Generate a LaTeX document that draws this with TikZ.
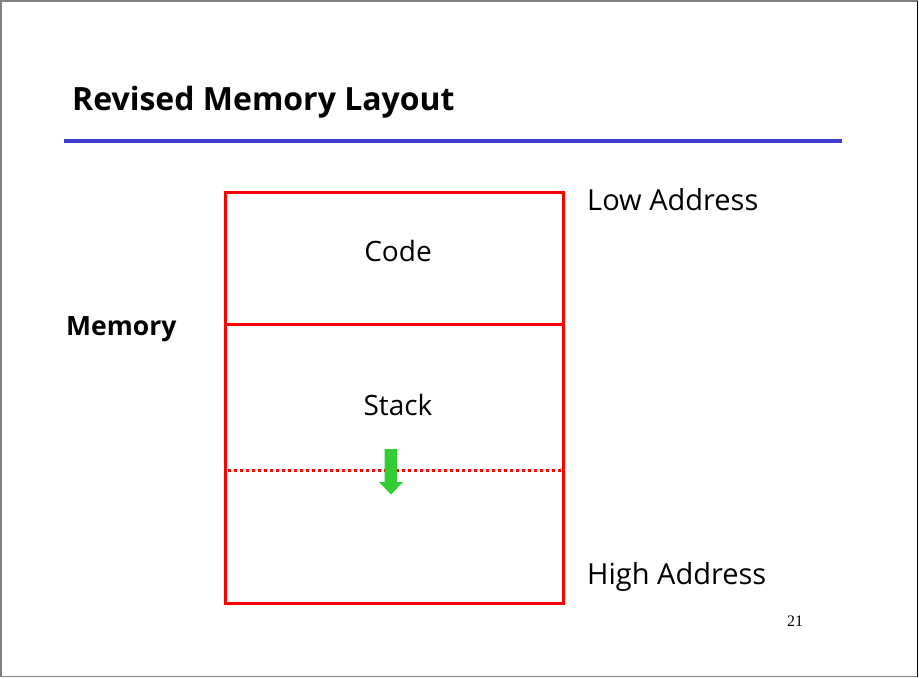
\documentclass[tikz,border=0pt]{standalone}
\usepackage{fontspec}
\setmainfont{Open Sans}
\newfontfamily\numfont{Liberation Serif}
\definecolor{rulecol}{RGB}{60,60,204}
\definecolor{memred}{RGB}{255,0,0}
\definecolor{growgreen}{RGB}{51,204,51}
\definecolor{framegray}{RGB}{128,128,128}
\begin{document}
\begin{tikzpicture}[x=1pt,y=-1pt,
  lbl/.style={inner sep=0pt,anchor=base west,font=\fontsize{29}{32}\selectfont},
  seg/.style={inner sep=0pt,anchor=base,font=\fontsize{28}{31}\selectfont},
  region/.style={draw=memred,line width=3pt}]
  \useasboundingbox (0,0) rectangle (919,678);
  % slide frame
  \draw[framegray,line width=1.5pt] (1,1) rectangle (917.5,676.5);
  \draw[black,line width=1.5pt] (917.5,1) -- (917.5,676.5);
  % title and rule
  \node[inner sep=0pt,anchor=base west,font=\bfseries\fontsize{32}{36}\selectfont] (title) at (72,110) {Revised Memory Layout};
  \coordinate (ruleL) at (64,141);
  \coordinate (ruleR) at (842,141);
  \draw[rulecol,line width=4pt] (ruleL) -- (ruleR);
  % memory block
  \draw[region] (225,192) rectangle (563,603);
  \coordinate (divL) at (225,324);
  \coordinate (divR) at (563,324);
  \draw[region] (divL) -- (divR);
  \coordinate (topL) at (228,470);
  \coordinate (topR) at (561,470);
  \draw[memred,line width=3pt,dash pattern=on 3pt off 3pt] (topL) -- (topR);
  % growth arrow
  \fill[growgreen] (384.5,449) -- (397,449) -- (397,482) -- (403,482) -- (391,494.5) -- (379,482) -- (384.5,482) -- cycle;
  % labels
  \node[seg] (code) at (398,261) {Code};
  \node[seg] (stack) at (398,415) {Stack};
  \node[lbl,font=\bfseries\fontsize{26.5}{30}\selectfont] (mem) at (66,335) {Memory};
  \node[lbl] (low) at (587,210) {Low Address};
  \node[lbl] (high) at (587,584) {High Address};
  \node[inner sep=0pt,anchor=base,font=\numfont\fontsize{16}{18}\selectfont] (pg) at (795,626) {21};
\end{tikzpicture}
\end{document}
